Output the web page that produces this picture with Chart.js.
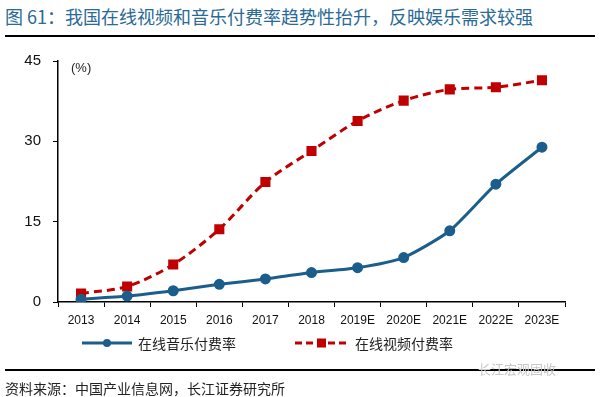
<!DOCTYPE html>
<html lang="zh">
<head>
<meta charset="UTF-8">
<title>在线视频和音乐付费率</title>
<style>
  body { margin: 0; background: #fff; font-family: "Noto Sans CJK SC", Arial, sans-serif; }
  #wrap { position: relative; width: 600px; height: 397px; overflow: hidden; }
  #title { position: absolute; left: 5px; top: 3px; font-size: 18px; color: #2a6a96; white-space: nowrap; }
  .rule { position: absolute; left: 5px; width: 590px; height: 1.5px; background: #000; }
  #chart { position: absolute; left: 0; top: 0; }
  #legend { position: absolute; top: 333px; left: 0; width: 600px; height: 22px; font-size: 14px; color: #222; }
  .item { position: absolute; top: 0; display: flex; align-items: center; }
  .item svg { margin-right: 6px; }
  #source { position: absolute; left: 5px; top: 378px; font-size: 14px; color: #222; white-space: nowrap; }
  #mark { position: absolute; left: 478px; top: 359px; font-size: 13px; color: #c8c8c8; }
</style>
</head>
<body>
<div id="wrap">
  <div id="title">图 61：我国在线视频和音乐付费率趋势性抬升，反映娱乐需求较强</div>
  <div class="rule" style="top:35px"></div>
  <canvas id="chart" width="600" height="397"></canvas>
  <div id="legend">
    <div class="item" style="left:82px">
      <svg width="50" height="12"><line x1="0" y1="6" x2="50" y2="6" stroke="#1b5e8c" stroke-width="3"/><circle cx="25" cy="6" r="4" fill="#1b5e8c"/></svg>
      <span id="lg0"></span>
    </div>
    <div class="item" style="left:295px">
      <svg width="54" height="12"><line x1="0" y1="6" x2="54" y2="6" stroke="#c00000" stroke-width="3" stroke-dasharray="7,4"/><rect x="22" y="1.5" width="9" height="9" fill="#c00000"/></svg>
      <span id="lg1"></span>
    </div>
  </div>
  <div class="rule" style="top:369px"></div>
  <div id="mark">长江宏观固收</div>
  <div id="source">资料来源：中国产业信息网，长江证券研究所</div>
</div>

<script src="https://cdn.jsdelivr.net/npm/chart.js"></script>
<script>
  // 数据
  const years = ['2013', '2014', '2015', '2016', '2017', '2018', '2019E', '2020E', '2021E', '2022E', '2023E'];
  const musicRate = [0.5, 1.1, 2.1, 3.3, 4.3, 5.5, 6.4, 8.3, 13.3, 22.0, 28.9];
  const videoRate = [1.6, 2.9, 7.0, 13.6, 22.4, 28.2, 33.8, 37.6, 39.7, 40.1, 41.4];
  const yTicks = [0, 15, 30, 45];
  const seriesNames = ['在线音乐付费率', '在线视频付费率'];

  document.getElementById('lg0').textContent = seriesNames[0];
  document.getElementById('lg1').textContent = seriesNames[1];

  // (%) 单位标注
  const unitLabel = {
    id: 'unitLabel',
    afterDraw(chart) {
      const ctx = chart.ctx;
      ctx.save();
      ctx.font = '13px Arial';
      ctx.fillStyle = '#222';
      ctx.textBaseline = 'middle';
      ctx.fillText('(%)', chart.chartArea.left + 13, chart.chartArea.top + 7);
      ctx.restore();
    }
  };

  const ctx = document.getElementById('chart').getContext('2d');
  new Chart(ctx, {
    type: 'line',
    data: {
      labels: years,
      datasets: [
        {
          label: seriesNames[0],
          data: musicRate,
          borderColor: '#1b5e8c',
          backgroundColor: '#1b5e8c',
          borderWidth: 3,
          pointRadius: 4,
          pointStyle: 'circle',
          tension: 0.2,
          order: 1
        },
        {
          label: seriesNames[1],
          data: videoRate,
          borderColor: '#c00000',
          backgroundColor: '#c00000',
          borderWidth: 3,
          borderDash: [8, 5],
          pointRadius: 5,
          pointStyle: 'rect',
          tension: 0.3,
          order: 2
        }
      ]
    },
    options: {
      responsive: false,
      animation: false,
      layout: { padding: { left: 0, top: 61, right: 35, bottom: 65 } },
      plugins: {
        legend: { display: false },
        tooltip: { enabled: false }
      },
      scales: {
        x: {
          offset: true,
          afterFit: s => { s.height = 30; },
          grid: { offset: true, drawOnChartArea: false, color: '#000', tickLength: 5 },
          border: { color: '#000', width: 1.5 },
          ticks: { color: '#111', font: { family: 'Arial', size: 12 }, maxRotation: 0, autoSkip: false, padding: 6 }
        },
        y: {
          min: 0,
          max: 45,
          afterFit: s => { s.width = 58; },
          afterBuildTicks: s => { s.ticks = yTicks.map(v => ({ value: v })); },
          grid: { drawOnChartArea: false, color: '#000', tickLength: 5 },
          border: { color: '#000', width: 1.5 },
          ticks: { color: '#111', font: { family: 'Arial', size: 15 }, padding: 12 }
        }
      }
    },
    plugins: [unitLabel]
  });
</script>
</body>
</html>
